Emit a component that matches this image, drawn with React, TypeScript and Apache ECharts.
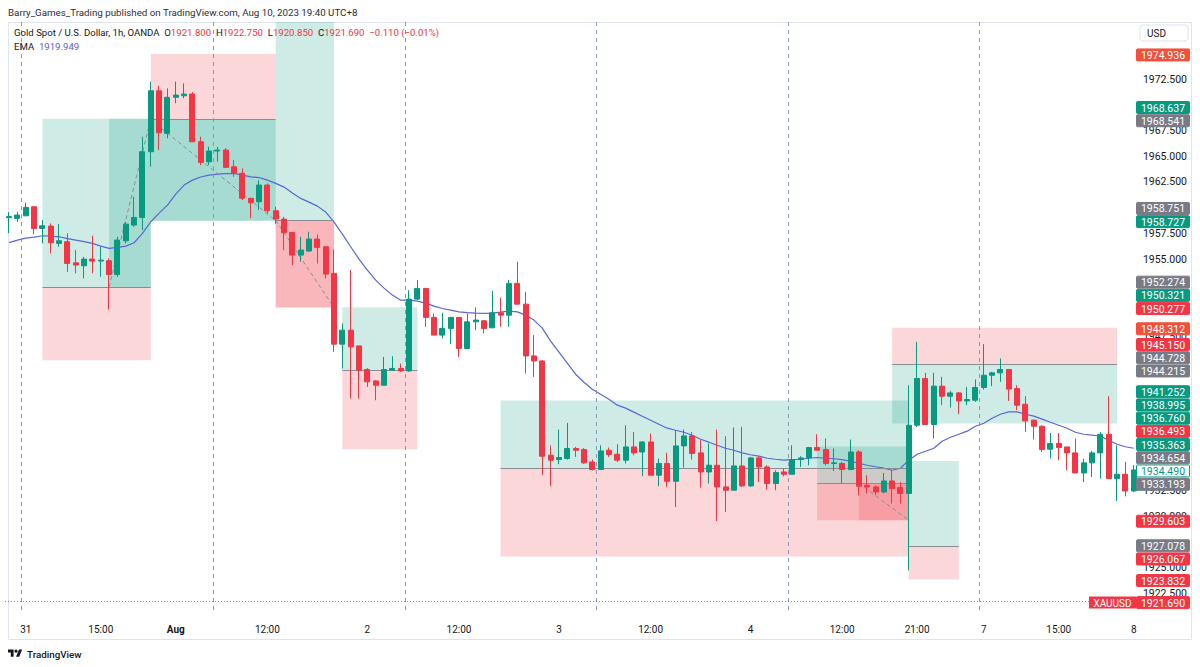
import React, { useEffect, useRef } from "react";
import * as echarts from "echarts";

// ---------- DATA ----------
const sessionHours: [string, number[]][] = [
  ["07-29", [3, 4]],
  ["07-31", [6, 7, 8, 9, 10, 11, 12, 13, 14, 15, 16, 17, 18, 19, 20, 21, 22, 23]],
  ["08-01", [0, 1, 2, 3, 4, 6, 7, 8, 9, 10, 11, 12, 13, 14, 15, 16, 17, 18, 19, 20, 21, 22, 23]],
  ["08-02", [0, 1, 2, 3, 4, 6, 7, 8, 9, 10, 11, 12, 13, 14, 15, 16, 17, 18, 19, 20, 21, 22, 23]],
  ["08-03", [0, 1, 2, 3, 4, 6, 7, 8, 9, 10, 11, 12, 13, 14, 15, 16, 17, 18, 19, 20, 21, 22, 23]],
  ["08-04", [0, 1, 2, 3, 4, 6, 7, 8, 9, 10, 11, 12, 13, 14, 15, 16, 17, 18, 19, 20, 21, 22, 23]],
  ["08-05", [0, 1, 2, 3, 4]],
  ["08-07", [6, 7, 8, 9, 10, 11, 12, 13, 14, 15, 16, 17, 18, 19, 20, 21, 22, 23]],
  ["08-08", [0]],
];
const categories: string[] = [];
sessionHours.forEach(([d, hs]) => hs.forEach((h) => categories.push(`${d} ${String(h).padStart(2, "0")}:00`)));

const timeTicks: [number, string][] = [
  [2, "31"], [11, "15:00"], [20, "Aug"], [31, "12:00"], [43, "2"], [54, "12:00"], [66, "3"],
  [77, "12:00"], [89, "4"], [100, "12:00"], [109, "21:00"], [117, "7"], [126, "15:00"], [135, "8"],
];

const opens = [
  1959.02, 1958.95, 1959.20, 1960.08, 1957.97, 1958.20, 1956.52, 1956.68, 1954.63, 1954.34,
  1954.99, 1954.80, 1954.83, 1953.50, 1956.77, 1958.30, 1959.04, 1965.43, 1971.36, 1967.21,
  1970.72, 1970.87, 1971.04, 1966.40, 1964.45, 1965.50, 1965.59, 1963.97, 1963.33, 1960.90,
  1960.56, 1962.19, 1959.69, 1958.88, 1957.59, 1955.38, 1955.77, 1956.94, 1956.19, 1953.60,
  1946.72, 1948.08, 1946.55, 1944.26, 1943.15, 1942.73, 1944.19, 1944.36, 1944.12, 1951.10,
  1952.14, 1949.32, 1947.60, 1948.25, 1949.32, 1946.30, 1948.89, 1948.99, 1948.31, 1949.77,
  1949.54, 1952.63, 1950.61, 1945.58, 1945.09, 1935.92, 1935.50, 1935.60, 1936.58, 1936.48,
  1935.27, 1934.53, 1936.41, 1936.02, 1935.44, 1936.73, 1936.24, 1937.21, 1933.98, 1935.12,
  1933.39, 1936.83, 1937.80, 1936.15, 1934.30, 1934.95, 1932.84, 1932.52, 1934.88, 1932.94,
  1935.66, 1934.78, 1933.17, 1934.30, 1934.07, 1935.50, 1935.66, 1936.67, 1936.48, 1935.12,
  1935.12, 1934.53, 1936.24, 1933.00, 1932.84, 1932.35, 1933.42, 1932.78, 1932.20, 1938.84,
  1943.38, 1938.91, 1942.64, 1941.66, 1941.98, 1941.20, 1941.27, 1942.51, 1943.70, 1943.93,
  1944.26, 1942.41, 1940.88, 1939.33, 1938.74, 1936.51, 1937.06, 1936.73, 1936.15, 1934.20,
  1935.18, 1936.15, 1937.96, 1933.65, 1934.07, 1932.45,
];
const closes = [
  1959.12, 1959.27, 1960.02, 1957.97, 1958.23, 1956.58, 1956.77, 1954.57, 1954.41, 1954.99,
  1954.80, 1954.89, 1953.50, 1956.84, 1958.39, 1959.04, 1965.43, 1971.36, 1967.27, 1970.72,
  1970.94, 1971.04, 1966.40, 1964.40, 1965.50, 1965.59, 1963.91, 1963.33, 1960.90, 1960.47,
  1962.19, 1959.69, 1958.88, 1957.55, 1955.38, 1955.87, 1956.94, 1956.13, 1953.53, 1946.72,
  1948.08, 1946.46, 1944.19, 1943.06, 1942.73, 1944.26, 1944.36, 1944.12, 1951.10, 1952.14,
  1949.32, 1947.60, 1948.25, 1949.32, 1946.30, 1948.89, 1949.06, 1948.25, 1949.77, 1949.54,
  1952.63, 1950.61, 1945.58, 1945.09, 1935.82, 1935.44, 1935.70, 1936.58, 1936.41, 1935.18,
  1934.53, 1936.34, 1935.99, 1935.44, 1936.73, 1936.15, 1937.21, 1933.98, 1935.12, 1933.39,
  1936.83, 1937.80, 1936.09, 1934.30, 1934.95, 1932.84, 1932.52, 1934.88, 1932.94, 1935.66,
  1934.78, 1933.17, 1934.24, 1934.07, 1935.50, 1935.66, 1936.67, 1936.41, 1935.12, 1935.18,
  1934.53, 1936.24, 1932.91, 1932.84, 1932.35, 1933.42, 1932.68, 1932.20, 1938.84, 1943.38,
  1938.91, 1942.64, 1941.66, 1941.98, 1941.20, 1941.34, 1942.51, 1943.70, 1943.93, 1944.26,
  1942.35, 1940.79, 1939.26, 1938.74, 1936.48, 1937.06, 1936.67, 1936.15, 1934.20, 1935.18,
  1936.15, 1937.96, 1933.65, 1934.07, 1932.45, 1934.49,
];
const lows = [
  1957.52, 1958.61, 1959.20, 1957.42, 1956.52, 1955.55, 1956.19, 1953.75, 1953.60, 1953.11,
  1953.60, 1953.27, 1950.09, 1953.27, 1956.52, 1958.13, 1957.81, 1963.97, 1965.59, 1966.73,
  1970.14, 1970.62, 1966.40, 1964.13, 1964.13, 1964.45, 1963.84, 1963.00, 1960.73, 1958.95,
  1959.76, 1959.43, 1958.39, 1955.87, 1954.41, 1954.73, 1955.70, 1954.57, 1953.11, 1945.97,
  1944.36, 1941.44, 1941.44, 1942.57, 1941.27, 1942.73, 1944.12, 1944.03, 1944.03, 1951.00,
  1948.41, 1947.60, 1947.28, 1946.72, 1945.48, 1946.30, 1948.08, 1947.76, 1948.31, 1948.41,
  1948.41, 1950.61, 1943.87, 1943.54, 1933.98, 1932.91, 1935.05, 1935.50, 1935.76, 1935.09,
  1934.46, 1934.53, 1935.76, 1935.27, 1935.12, 1935.92, 1933.88, 1933.98, 1932.91, 1932.84,
  1930.89, 1934.72, 1935.50, 1932.78, 1933.17, 1929.53, 1930.41, 1932.52, 1932.84, 1932.84,
  1933.32, 1932.59, 1932.52, 1933.88, 1934.07, 1934.78, 1934.95, 1936.41, 1934.95, 1934.39,
  1933.17, 1934.46, 1932.03, 1932.20, 1932.03, 1932.20, 1931.22, 1931.22, 1924.73, 1938.67,
  1938.91, 1937.55, 1940.79, 1940.56, 1939.91, 1940.79, 1941.11, 1942.31, 1942.64, 1943.05,
  1941.20, 1940.30, 1938.19, 1937.45, 1936.24, 1935.60, 1935.44, 1934.46, 1934.20, 1933.32,
  1933.81, 1933.65, 1933.65, 1931.48, 1931.93, 1932.35,
];
const highs = [
  1959.56, 1959.59, 1960.47, 1960.08, 1958.78, 1958.46, 1958.39, 1957.49, 1955.87, 1955.21,
  1957.26, 1956.19, 1955.06, 1957.16, 1958.62, 1961.05, 1966.89, 1972.24, 1971.82, 1971.59,
  1972.24, 1972.08, 1971.23, 1966.89, 1965.91, 1965.91, 1965.79, 1964.62, 1963.81, 1960.90,
  1962.67, 1962.35, 1960.08, 1959.11, 1957.59, 1957.16, 1957.65, 1957.39, 1956.19, 1955.93,
  1948.73, 1953.92, 1946.55, 1944.39, 1943.22, 1945.48, 1945.55, 1944.84, 1951.97, 1952.95,
  1952.14, 1949.71, 1949.77, 1949.38, 1949.32, 1949.71, 1950.29, 1949.06, 1951.91, 1951.23,
  1952.95, 1954.73, 1951.81, 1947.60, 1945.16, 1936.89, 1938.42, 1939.06, 1936.73, 1936.61,
  1935.50, 1936.89, 1936.67, 1936.99, 1938.84, 1938.19, 1937.30, 1938.03, 1935.60, 1936.15,
  1938.35, 1938.42, 1938.19, 1937.38, 1937.06, 1938.42, 1937.77, 1938.62, 1938.68, 1935.76,
  1935.83, 1934.95, 1934.46, 1934.63, 1936.89, 1935.83, 1936.67, 1937.96, 1937.55, 1936.58,
  1935.27, 1937.45, 1936.41, 1933.98, 1933.00, 1934.20, 1934.46, 1933.32, 1942.73, 1946.94,
  1943.93, 1943.93, 1943.54, 1942.18, 1942.08, 1942.57, 1943.29, 1946.72, 1944.03, 1945.33,
  1944.26, 1942.73, 1941.66, 1939.39, 1938.84, 1938.09, 1938.09, 1936.73, 1937.55, 1935.60,
  1936.34, 1938.19, 1941.66, 1936.89, 1935.27, 1934.95,
];
const emaValues = [
  1956.59, 1956.84, 1957.03, 1957.13, 1957.26, 1957.23, 1957.16, 1956.98, 1956.84, 1956.69,
  1956.52, 1956.25, 1956.03, 1956.13, 1956.25, 1956.58, 1957.49, 1958.62, 1959.46, 1960.24,
  1961.31, 1962.19, 1962.67, 1962.97, 1963.16, 1963.26, 1963.31, 1963.31, 1963.16, 1962.99,
  1962.92, 1962.67, 1962.35, 1961.99, 1961.41, 1960.89, 1960.53, 1960.14, 1959.56, 1958.59,
  1957.42, 1956.19, 1954.99, 1953.92, 1952.95, 1952.17, 1951.49, 1951.00, 1951.00, 1950.90,
  1950.71, 1950.42, 1950.19, 1950.03, 1949.86, 1949.78, 1949.74, 1949.71, 1949.74, 1949.83,
  1949.93, 1949.86, 1949.54, 1949.06, 1948.28, 1947.01, 1945.94, 1944.87, 1943.80, 1943.02,
  1942.34, 1941.85, 1941.37, 1940.79, 1940.50, 1940.11, 1939.72, 1939.33, 1938.94, 1938.55,
  1938.35, 1938.16, 1937.87, 1937.48, 1937.19, 1936.89, 1936.60, 1936.41, 1936.15, 1935.97,
  1935.83, 1935.63, 1935.53, 1935.44, 1935.49, 1935.53, 1935.63, 1935.70, 1935.63, 1935.58,
  1935.50, 1935.34, 1935.14, 1934.95, 1934.80, 1934.66, 1934.46, 1934.66, 1935.44, 1936.02,
  1936.31, 1936.60, 1937.28, 1937.67, 1937.96, 1938.26, 1938.74, 1939.03, 1939.52, 1939.91,
  1940.13, 1940.13, 1939.91, 1939.72, 1939.43, 1939.13, 1938.84, 1938.55, 1938.16, 1937.96,
  1937.87, 1937.77, 1937.38, 1936.99, 1936.75, 1936.60,
];

// position tools: bar range, entry / target / stop, and the traded part (trigger bar -> exit bar, exit price)
const positions = [
  { from: 4, to: 17, entry: 1952.274, target: 1968.637, stop: 1945.15, trigger: 12, exitBar: 17, exitPrice: 1968.637 },
  { from: 17, to: 32, entry: 1968.541, target: 1958.727, stop: 1974.936, trigger: 17, exitBar: 32, exitPrice: 1958.727 },
  { from: 32, to: 39, entry: 1958.751, target: 1983.5, stop: 1950.277, trigger: 32, exitBar: 39, exitPrice: 1950.277 },
  { from: 40, to: 49, entry: 1944.215, target: 1950.321, stop: 1936.493, trigger: null, exitBar: null, exitPrice: null },
  { from: 59, to: 108, entry: 1934.654, target: 1941.252, stop: 1926.067, trigger: null, exitBar: null, exitPrice: null },
  { from: 97, to: 108, entry: 1933.193, target: 1936.76, stop: 1929.603, trigger: 102, exitBar: 108, exitPrice: 1929.603 },
  { from: 108, to: 114, entry: 1927.078, target: 1935.363, stop: 1923.832, trigger: null, exitBar: null, exitPrice: null },
  { from: 106, to: 133, entry: 1944.728, target: 1938.995, stop: 1948.312, trigger: null, exitBar: null, exitPrice: null },
];

const legendOHLC = { o: "1921.800", h: "1922.750", l: "1920.850", c: "1921.690", chg: "−0.110 (−0.01%)" };
const currentPrice = 1921.69;
const emaLegend = "1919.949";

// ---------- STYLE ----------
const FONT = "Roboto, 'Noto Sans', sans-serif";
const UP = "#089981";
const DOWN = "#f23645";
const SHORT_STOP = "#f0503c";
const GRAY = "#787b86";
const PROFIT = "rgba(8,153,129,0.2)";
const LOSS = "rgba(242,54,69,0.2)";
const PANE_TOP = 1978.04;
const PANE_BOTTOM = 1920.68;
const Y_MIN = 1920;
const Y_MAX = 1980;
const Y_STEP = 2.5;

export default function App() {
  const ref = useRef<HTMLDivElement>(null);

  useEffect(() => {
    const chart = echarts.init(ref.current!, undefined, { renderer: "svg" });
    const N = categories.length;
    const tickMap = new Map<number, string>(timeTicks);

    const areas: any[] = [];
    const lines: any[] = [];
    positions.forEach((p) => {
      const top = Math.min(p.target, PANE_TOP);
      areas.push([{ coord: [p.from, top], itemStyle: { color: PROFIT, opacity: 1 } }, { coord: [p.to, p.entry] }]);
      areas.push([{ coord: [p.from, Math.min(p.stop, PANE_TOP)], itemStyle: { color: LOSS, opacity: 1 } }, { coord: [p.to, p.entry] }]);
      if (p.trigger !== null && p.exitBar !== null && p.exitPrice !== null) {
        const win = p.exitPrice === p.target;
        areas.push([{ coord: [p.trigger, p.exitPrice], itemStyle: { color: win ? PROFIT : LOSS, opacity: 1 } }, { coord: [p.exitBar, p.entry] }]);
        lines.push([
          { coord: [p.trigger, p.entry], lineStyle: { color: "#8a8d96", width: 1, type: [4, 3] } },
          { coord: [p.exitBar, p.exitPrice] },
        ]);
      }
      lines.push([
        { coord: [p.from, p.entry], lineStyle: { color: "#8a8d96", width: 1, type: "solid" } },
        { coord: [p.to, p.entry] },
      ]);
    });
    // session breaks
    categories.forEach((c, i) => {
      if (c.endsWith("06:00")) {
        lines.push([
          { coord: [i - 0.5, PANE_TOP], lineStyle: { color: "#8797b6", width: 1, type: [4, 4] } },
          { coord: [i - 0.5, PANE_BOTTOM] },
        ]);
      }
    });
    // current price line
    lines.push([
      { coord: [-0.5, currentPrice], lineStyle: { color: DOWN, width: 1, type: [1, 2], opacity: 0.8 } },
      { coord: [N - 0.5, currentPrice] },
    ]);

    const option: any = {
      animation: false,
      textStyle: { fontFamily: FONT },
      grid: { left: 5, right: 62.1, top: 1.86, bottom: 48, containLabel: false, outerBoundsMode: "none" },
      xAxis: [
        {
          type: "category",
          data: categories,
          boundaryGap: true,
          axisLine: { show: false },
          axisTick: { show: false },
          splitLine: { show: false },
          axisLabel: {
            interval: (i: number) => tickMap.has(i),
            formatter: (_v: string, i: number) => {
              const t = tickMap.get(i) || "";
              return t === "Aug" ? `{b|${t}}` : t;
            },
            color: "#131722",
            fontSize: 10,
            fontFamily: FONT,
            margin: 5,
            rich: { b: { fontWeight: "bold", fontSize: 10, color: "#131722", fontFamily: FONT } },
          },
        },
        { type: "value", min: -0.5, max: N - 0.5, show: false },
      ],
      yAxis: {
        type: "value",
        position: "right",
        min: Y_MIN,
        max: Y_MAX,
        interval: Y_STEP,
        axisLine: { show: false },
        axisTick: { show: false },
        splitLine: { show: false },
        axisLabel: {
          margin: 5,
          color: "#131722",
          fontSize: 10.5,
          fontFamily: FONT,
          formatter: (v: number) => (v < 1921 || v > 1976 ? "" : v.toFixed(3)),
        },
      },
      series: [
        {
          type: "line",
          xAxisIndex: 1,
          yAxisIndex: 0,
          data: [],
          silent: true,
          z: 1,
          markArea: { silent: true, data: areas },
          markLine: { silent: true, symbol: ["none", "none"], label: { show: false }, data: lines },
        },
        {
          type: "line",
          name: "EMA",
          data: emaValues,
          xAxisIndex: 0,
          showSymbol: false,
          symbol: "none",
          silent: true,
          z: 4,
          lineStyle: { color: "#5a66d6", width: 1.2 },
        },
        {
          type: "candlestick",
          data: opens.map((o, i) => [o, closes[i], lows[i], highs[i]]),
          xAxisIndex: 0,
          barWidth: 5.5,
          silent: true,
          z: 5,
          itemStyle: { color: UP, color0: DOWN, borderColor: UP, borderColor0: DOWN, borderWidth: 1 },
        },
      ],
    };
    chart.setOption(option);

    // ---- price tags on the price scale ----
    type Tag = { v: number; fill: string; stroke?: string; text: string; anchor?: boolean; y?: number; py?: number };
    const tags: Tag[] = [];
    positions.forEach((p) => {
      const isLong = p.target > p.entry;
      tags.push({ v: p.entry, fill: GRAY, text: "#fff" });
      if (p.target < PANE_TOP) tags.push({ v: p.target, fill: UP, text: "#fff" });
      tags.push({ v: p.stop, fill: isLong ? DOWN : SHORT_STOP, text: "#fff" });
    });
    tags.push({ v: closes[N - 1], fill: "#ffffff", stroke: UP, text: UP, anchor: true });
    tags.push({ v: currentPrice, fill: DOWN, text: "#fff", anchor: true });

    const toY = (v: number) => (chart.convertToPixel({ yAxisIndex: 0 } as any, v) as number) + 1;
    tags.forEach((t) => (t.y = toY(t.v)));
    const H = 13.2;
    const anchors = tags.filter((t) => t.anchor);
    anchors.forEach((a) => (a.py = a.y));
    const free = tags.filter((t) => !t.anchor);
    const upper = anchors.reduce((m, a) => (a.y! < m.y! ? a : m), anchors[0]);
    const lower = anchors.reduce((m, a) => (a.y! > m.y! ? a : m), anchors[0]);

    // between the two anchors: clusters touching the chain are pushed down, isolated clusters are centred
    const below = free.filter((t) => t.y! > upper.y! && t.y! < lower.y!).sort((a, b) => a.y! - b.y!);
    const clusters: Tag[][] = [];
    below.forEach((t) => {
      const last = clusters[clusters.length - 1];
      if (last && t.y! - last[last.length - 1].y! < H) last.push(t);
      else clusters.push([t]);
    });
    let prevDown = upper.y!;
    clusters.forEach((cl) => {
      if (cl[0].y! - prevDown < H) {
        cl.forEach((t) => {
          t.py = Math.max(t.y!, prevDown + H);
          prevDown = t.py;
        });
      } else {
        const m = cl.reduce((s, t) => s + t.y!, 0) / cl.length;
        let start = m - ((cl.length - 1) / 2) * H;
        if (start < prevDown + H) start = prevDown + H;
        cl.forEach((t, k) => (t.py = start + k * H));
        prevDown = cl[cl.length - 1].py!;
      }
    });
    // above the last-close anchor: stacked upward
    const above = free.filter((t) => t.y! <= upper.y!).sort((a, b) => b.y! - a.y!);
    let prevUp = upper.y!;
    above.forEach((t) => {
      t.py = Math.min(t.y!, prevUp - H);
      prevUp = t.py;
    });
    const placed = [...anchors, ...below, ...above];

    // hide axis labels that the tags cover
    const boxHalf = 6;
    const hidden = new Set<number>();
    for (let v = Y_MIN; v <= Y_MAX + 1e-6; v += Y_STEP) {
      const yc = toY(v) - 1;
      const s0 = yc - 4, s1 = yc + 4;
      const segs = placed
        .map((t) => [Math.max(s0, t.py! - boxHalf), Math.min(s1, t.py! + boxHalf)])
        .filter(([a, b]) => b > a)
        .sort((a, b) => a[0] - b[0]);
      let covered = 0, cur = s0;
      segs.forEach(([a, b]) => {
        const lo = Math.max(a, cur);
        if (b > lo) { covered += b - lo; cur = b; }
      });
      if (8 - covered < 2.4) hidden.add(Math.round(v * 1000));
    }

    const g: any[] = [];
    g.push({ type: "rect", shape: { x: 8.5, y: 22.5, width: 1183, height: 617 }, style: { fill: "none", stroke: "#e0e3eb", lineWidth: 1 }, silent: true, z: 0 });
    placed.forEach((t) => {
      g.push({
        type: "rect",
        shape: { x: 1136.5, y: t.py! - boxHalf, width: 53, height: boxHalf * 2, r: 1 },
        style: { fill: t.fill, stroke: t.stroke || t.fill, lineWidth: 1 },
        silent: true,
        z: 100,
      });
      g.push({
        type: "text",
        style: { text: t.v.toFixed(3), x: 1163, y: t.py! + 0.5, align: "center", textAlign: "center", verticalAlign: "middle", textVerticalAlign: "middle", fill: t.text, font: `10.5px ${FONT}`, lineHeight: 11 },
        silent: true,
        z: 101,
      });
    });
    const cp = anchors.find((t) => t.v === currentPrice)!;
    g.push({ type: "rect", shape: { x: 1089, y: cp.py! - boxHalf, width: 47, height: boxHalf * 2 }, style: { fill: DOWN }, silent: true, z: 100 });
    g.push({
      type: "text",
      style: { text: "XAUUSD", x: 1112.5, y: cp.py! + 0.5, align: "center", textAlign: "center", verticalAlign: "middle", textVerticalAlign: "middle", fill: "#fff", font: `10px ${FONT}`, lineHeight: 11 },
      silent: true,
      z: 101,
    });
    // USD box
    g.push({ type: "rect", shape: { x: 1140, y: 25, width: 48, height: 16, r: 3 }, style: { fill: "#fff", stroke: "#e0e3eb", lineWidth: 1 }, silent: true, z: 100 });
    g.push({ type: "text", style: { text: "USD", x: 1147, y: 33, verticalAlign: "middle", textVerticalAlign: "middle", fill: "#131722", font: `10px ${FONT}` }, silent: true, z: 101 });
    // header
    g.push({
      type: "text",
      style: { text: "Barry_Games_Trading published on TradingView.com, Aug 10, 2023 19:40 UTC+8", x: 8, y: 12, verticalAlign: "middle", textVerticalAlign: "middle", fill: "#2a2e39", font: `9.75px ${FONT}` },
      silent: true,
      z: 101,
    });
    g.push({
      type: "text",
      style: {
        text: `{d|Gold Spot / U.S. Dollar, 1h, OANDA  O}{r|${legendOHLC.o}}{d|  H}{r|${legendOHLC.h}}{d|  L}{r|${legendOHLC.l}}{d|  C}{r|${legendOHLC.c}}{r|  ${legendOHLC.chg}}`,
        x: 14,
        y: 32,
        verticalAlign: "middle",
        textVerticalAlign: "middle",
        rich: {
          d: { fill: "#131722", fontSize: 9.6, fontFamily: FONT },
          r: { fill: DOWN, fontSize: 9.6, fontFamily: FONT },
        },
      },
      silent: true,
      z: 101,
    });
    g.push({
      type: "text",
      style: {
        text: `{d|EMA  }{e|${emaLegend}}`,
        x: 14,
        y: 46,
        verticalAlign: "middle",
        textVerticalAlign: "middle",
        rich: {
          d: { fill: "#131722", fontSize: 9.6, fontFamily: FONT },
          e: { fill: "#5a5fd0", fontSize: 9.6, fontFamily: FONT },
        },
      },
      silent: true,
      z: 101,
    });
    // footer logo
    g.push({
      type: "group",
      x: 8,
      y: 648,
      scaleX: 0.4,
      scaleY: 0.4,
      silent: true,
      children: [
        { type: "polygon", shape: { points: [[0, 4], [14, 4], [14, 22], [7, 22], [7, 11], [0, 11]] }, style: { fill: "#131722" } },
        { type: "polygon", shape: { points: [[20, 22], [27.5, 4], [35.5, 4], [28, 22]] }, style: { fill: "#131722" } },
        { type: "circle", shape: { cx: 20, cy: 8, r: 4 }, style: { fill: "#131722" } },
      ],
    });
    g.push({ type: "text", style: { text: "TradingView", x: 27, y: 654, verticalAlign: "middle", textVerticalAlign: "middle", fill: "#131722", font: `500 9.8px ${FONT}` }, silent: true, z: 101 });

    chart.setOption({
      yAxis: {
        axisLabel: {
          formatter: (v: number) => (v < 1921 || v > 1976 || hidden.has(Math.round(v * 1000)) ? "" : v.toFixed(3)),
        },
      },
      graphic: { elements: g },
    });

    return () => chart.dispose();
  }, []);

  return <div ref={ref} style={{ position: "fixed", left: 0, top: 0, width: 1200, height: 667, background: "#ffffff" }} />;
}
